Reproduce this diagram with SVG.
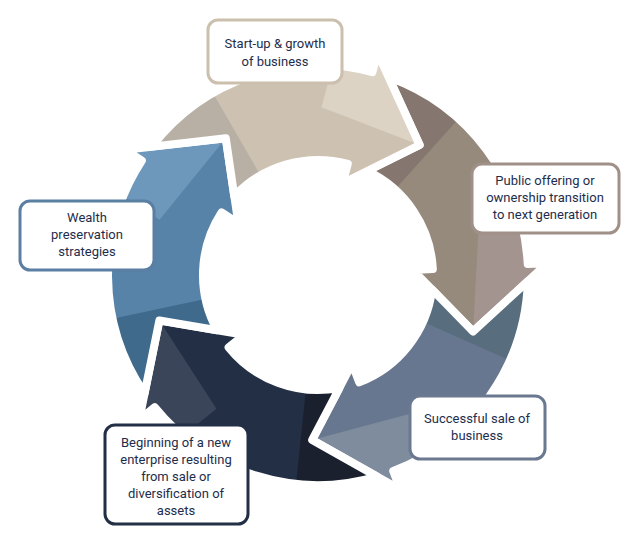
<svg xmlns="http://www.w3.org/2000/svg" width="640" height="542" viewBox="0 0 640 542">
<style>
.ol{fill:none;stroke:#fff;stroke-width:8;stroke-linejoin:round}
.box{fill:#fff;stroke-width:3}
.t{font-family:Roboto,"Liberation Sans",sans-serif;font-size:13px;fill:#1d2d4c;text-anchor:middle}
</style>
<defs>
<path id="seg" d="M81,-193.7 A210 210 0 0 1 210,0 L230,0 L151.9,64.5 L95,0 L115,0 A115 115 0 0 0 54.5,-101.3 L108.3,-124.5 Z"/>
<clipPath id="cp"><use href="#seg"/></clipPath>
<path id="tail" d="M0,0 L40,-300 L212,-212 Z"/>
<path id="hout" d="M163,-40 L300,-40 L300,200 L151.9,64.5 Z"/>
</defs>
<rect width="640" height="542" fill="#fff"/>
<g id="connectors">
<g id="arrow-brown" transform="translate(318,275) rotate(-3)">
<g clip-path="url(#cp)"><rect x="-10" y="-300" width="320" height="400" fill="#958a7c"/><use href="#tail" fill="#85776f"/><use href="#hout" fill="#a39490"/></g>
<use href="#seg" class="ol"/></g>
<g id="arrow-slate" transform="translate(318,275) rotate(69)">
<g clip-path="url(#cp)"><rect x="-10" y="-300" width="320" height="400" fill="#687790"/><use href="#tail" fill="#586e7e"/><use href="#hout" fill="#7f8c9e"/></g>
<use href="#seg" class="ol"/></g>
<g id="arrow-dark" transform="translate(318,275) rotate(141)">
<g clip-path="url(#cp)"><rect x="-10" y="-300" width="320" height="400" fill="#232f45"/><use href="#tail" fill="#1a202e"/><use href="#hout" fill="#3a4559"/></g>
<use href="#seg" class="ol"/></g>
<g id="arrow-blue" transform="translate(318,275) rotate(-147)">
<g clip-path="url(#cp)"><rect x="-10" y="-300" width="320" height="400" fill="#5783a8"/><use href="#tail" fill="#3f6a8c"/><use href="#hout" fill="#6e98bb"/></g>
<use href="#seg" class="ol"/></g>
<g id="arrow-beige" transform="translate(318,275) rotate(-75)">
<g clip-path="url(#cp)"><rect x="-10" y="-300" width="320" height="400" fill="#cdc2b2"/><use href="#tail" fill="#b8b0a4"/><use href="#hout" fill="#ddd3c5"/></g>
<use href="#seg" class="ol"/></g>
</g>
<g id="n1"><rect class="box" x="208" y="20" width="134" height="63" rx="10" stroke="#cbbfae"/>
<text class="t" x="275" y="48">Start-up &amp; growth</text><text class="t" x="275" y="66">of business</text></g>
<g id="n2"><rect class="box" x="472" y="164" width="147" height="69" rx="10" stroke="#a09088"/>
<text class="t" x="545" y="185">Public offering or</text><text class="t" x="545" y="202">ownership transition</text><text class="t" x="545" y="219">to next generation</text></g>
<g id="n3"><rect class="box" x="20" y="201" width="134" height="69" rx="10" stroke="#5a7fa3"/>
<text class="t" x="87" y="222">Wealth</text><text class="t" x="87" y="239">preservation</text><text class="t" x="87" y="256">strategies</text></g>
<g id="n4"><rect class="box" x="410" y="396" width="135" height="63" rx="10" stroke="#6a7890"/>
<text class="t" x="477" y="423">Successful sale of</text><text class="t" x="477" y="440">business</text></g>
<g id="n5"><rect class="box" x="105" y="425" width="143" height="99" rx="10" stroke="#232f45"/>
<text class="t" x="176" y="447">Beginning of a new</text><text class="t" x="176" y="464">enterprise resulting</text><text class="t" x="176" y="481">from sale or</text><text class="t" x="176" y="498">diversification of</text><text class="t" x="176" y="515">assets</text></g>
</svg>
